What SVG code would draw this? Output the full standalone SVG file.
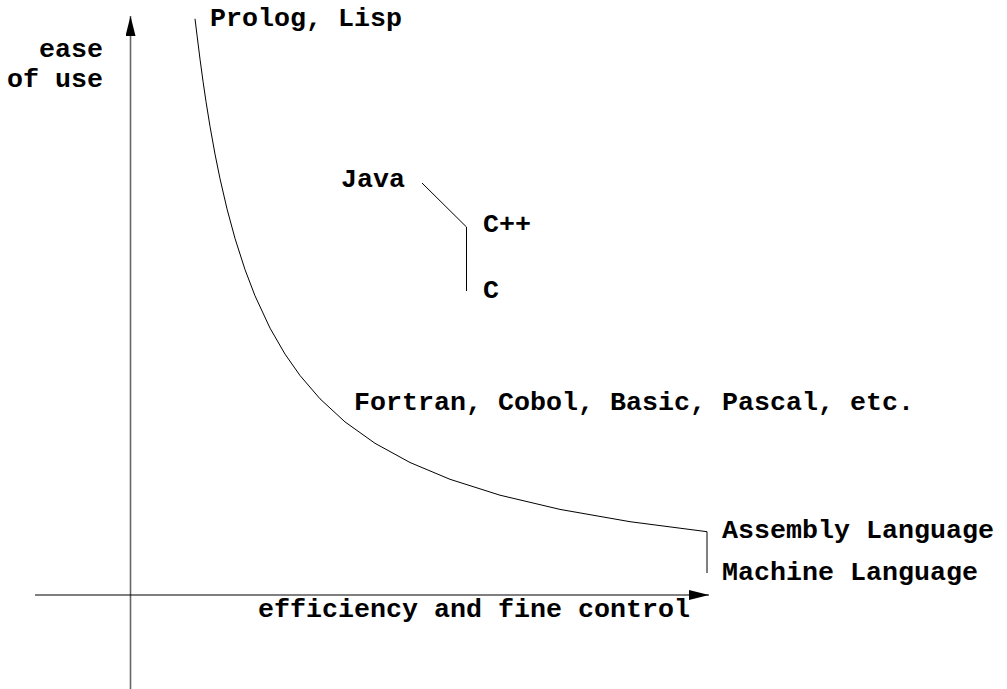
<svg xmlns="http://www.w3.org/2000/svg" width="1007" height="689" viewBox="0 0 1007 689">
<style>
text{font-family:"Liberation Mono","Courier New",monospace;font-weight:bold;font-size:26.67px;fill:#000}
.ax{stroke:#000;stroke-width:1.2;fill:none}
.ln{stroke:#000;stroke-width:1;fill:none}
</style>
<defs>
<marker id="ah" viewBox="0 0 20 10" refX="20" refY="5" markerWidth="20" markerHeight="10" markerUnits="userSpaceOnUse" orient="auto">
<path d="M0,0 L20,5 L0,10 Z" fill="#000"/>
</marker>
</defs>
<rect width="1007" height="689" fill="#fff"/>
<g id="connectors">
<line class="ax" x1="130.5" y1="689" x2="130.5" y2="16" marker-end="url(#ah)" style="stroke:#666;stroke-width:1.6"/>
<line class="ax" x1="35" y1="595" x2="709" y2="595" marker-end="url(#ah)"/>
<polyline class="ln" points="195,18.8 197,35.1 200,59.1 203,81.2 206,101.6 210,126.4 215,154.1 220,178.7 227,208.9 235,238.4 245,269.6 255,295.8 270,328.1 285,354.1 300,375.5 320,398.8 345,421.9 375,443.3 410,462.5 450,479.3 500,495.2 560,509.4 630,521.7 707,531.7 707,573"/>
<polyline class="ln" points="422,183 466.5,227 466.5,291"/>
</g>
<g id="y-label"><text x="103" y="57" text-anchor="end">ease</text><text x="103" y="87" text-anchor="end">of use</text></g>
<g id="x-label"><text x="258" y="617">efficiency and fine control</text></g>
<g id="prolog"><text x="210" y="26">Prolog, Lisp</text></g>
<g id="java"><text x="341" y="187">Java</text></g>
<g id="cpp"><text x="483" y="232">C++</text></g>
<g id="c"><text x="483" y="298">C</text></g>
<g id="fortran"><text x="354" y="410">Fortran, Cobol, Basic, Pascal, etc.</text></g>
<g id="assembly"><text x="722" y="538">Assembly Language</text></g>
<g id="machine"><text x="722" y="580">Machine Language</text></g>
</svg>
